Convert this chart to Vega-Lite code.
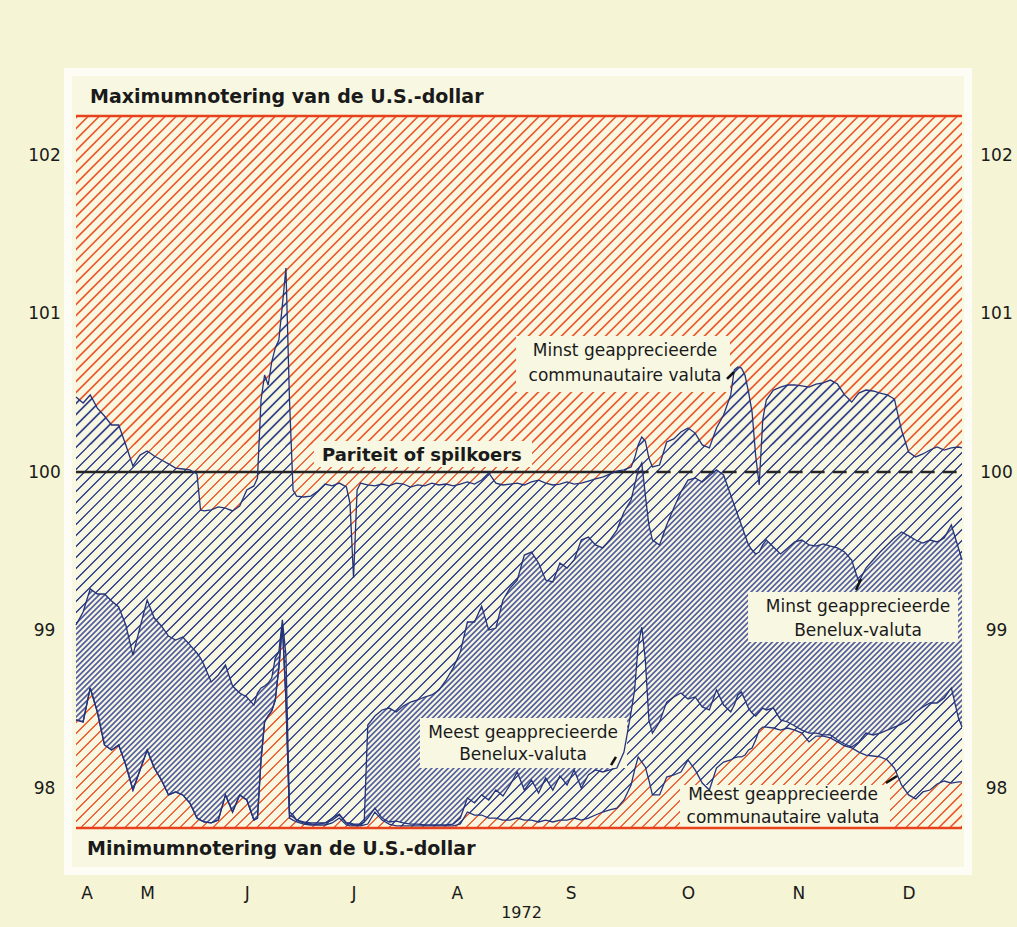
{
"$schema":"https://vega.github.io/schema/vega-lite/v6.json",
"width":886,"height":712,
"autosize":{"type":"none"},
"padding":{"left":76,"top":116,"right":55,"bottom":99},
"background":"#f5f4d5",
"config":{"view":{"stroke":null},"font":"DejaVu Sans"},
"datasets":{"koersen":[
{"dag":"1972-04-24","minstC":100.474,"meestC":98.433,"minstB":99.033,"meestB":98.433},
{"dag":"1972-04-26","minstC":100.436,"meestC":98.42,"minstB":99.115,"meestB":98.42},
{"dag":"1972-04-28","minstC":100.487,"meestC":98.635,"minstB":99.261,"meestB":98.635},
{"dag":"1972-04-30","minstC":100.404,"meestC":98.483,"minstB":99.229,"meestB":98.483},
{"dag":"1972-05-02","minstC":100.354,"meestC":98.275,"minstB":99.229,"meestB":98.275},
{"dag":"1972-05-04","minstC":100.297,"meestC":98.243,"minstB":99.185,"meestB":98.243},
{"dag":"1972-05-06","minstC":100.297,"meestC":98.275,"minstB":99.147,"meestB":98.275},
{"dag":"1972-05-08","minstC":100.171,"meestC":98.148,"minstB":99.033,"meestB":98.148},
{"dag":"1972-05-10","minstC":100.038,"meestC":97.99,"minstB":98.843,"meestB":97.99},
{"dag":"1972-05-12","minstC":100.107,"meestC":98.117,"minstB":99.02,"meestB":98.117},
{"dag":"1972-05-14","minstC":100.133,"meestC":98.243,"minstB":99.191,"meestB":98.243},
{"dag":"1972-05-16","minstC":100.101,"meestC":98.129,"minstB":99.077,"meestB":98.129},
{"dag":"1972-05-18","minstC":100.076,"meestC":98.053,"minstB":99.027,"meestB":98.053},
{"dag":"1972-05-20","minstC":100.051,"meestC":97.959,"minstB":98.963,"meestB":97.959},
{"dag":"1972-05-22","minstC":100.025,"meestC":97.978,"minstB":98.938,"meestB":97.978},
{"dag":"1972-05-24","minstC":100.019,"meestC":97.959,"minstB":98.957,"meestB":97.959},
{"dag":"1972-05-26","minstC":100.013,"meestC":97.908,"minstB":98.907,"meestB":97.908},
{"dag":"1972-05-28","minstC":99.987,"meestC":97.813,"minstB":98.856,"meestB":97.813},
{"dag":"1972-05-29","minstC":99.76,"meestC":97.8,"minstB":98.824,"meestB":97.8},
{"dag":"1972-05-30","minstC":99.754,"meestC":97.788,"minstB":98.78,"meestB":97.788},
{"dag":"1972-06-01","minstC":99.76,"meestC":97.782,"minstB":98.673,"meestB":97.782},
{"dag":"1972-06-03","minstC":99.779,"meestC":97.8,"minstB":98.717,"meestB":97.8},
{"dag":"1972-06-05","minstC":99.772,"meestC":97.959,"minstB":98.78,"meestB":97.959},
{"dag":"1972-06-07","minstC":99.754,"meestC":97.851,"minstB":98.647,"meestB":97.851},
{"dag":"1972-06-09","minstC":99.785,"meestC":97.959,"minstB":98.603,"meestB":97.959},
{"dag":"1972-06-11","minstC":99.886,"meestC":97.927,"minstB":98.578,"meestB":97.927},
{"dag":"1972-06-13","minstC":99.912,"meestC":97.8,"minstB":98.527,"meestB":97.8},
{"dag":"1972-06-14","minstC":99.962,"meestC":97.813,"minstB":98.603,"meestB":97.813},
{"dag":"1972-06-15","minstC":100.455,"meestC":98.18,"minstB":98.635,"meestB":98.18},
{"dag":"1972-06-16","minstC":100.613,"meestC":98.42,"minstB":98.647,"meestB":98.42},
{"dag":"1972-06-17","minstC":100.55,"meestC":98.458,"minstB":98.666,"meestB":98.458},
{"dag":"1972-06-18","minstC":100.695,"meestC":98.489,"minstB":98.698,"meestB":98.489},
{"dag":"1972-06-19","minstC":100.784,"meestC":98.559,"minstB":98.824,"meestB":98.559},
{"dag":"1972-06-20","minstC":100.834,"meestC":98.761,"minstB":98.862,"meestB":98.761},
{"dag":"1972-06-21","minstC":101.055,"meestC":99.033,"minstB":99.065,"meestB":99.033},
{"dag":"1972-06-22","minstC":101.289,"meestC":98.559,"minstB":98.843,"meestB":98.559},
{"dag":"1972-06-23","minstC":100.455,"meestC":97.813,"minstB":97.851,"meestB":97.832},
{"dag":"1972-06-24","minstC":99.886,"meestC":97.8,"minstB":97.832,"meestB":97.819},
{"dag":"1972-06-25","minstC":99.848,"meestC":97.788,"minstB":97.8,"meestB":97.8},
{"dag":"1972-06-27","minstC":99.842,"meestC":97.775,"minstB":97.788,"meestB":97.782},
{"dag":"1972-06-29","minstC":99.848,"meestC":97.769,"minstB":97.782,"meestB":97.775},
{"dag":"1972-07-01","minstC":99.88,"meestC":97.769,"minstB":97.782,"meestB":97.775},
{"dag":"1972-07-03","minstC":99.924,"meestC":97.769,"minstB":97.782,"meestB":97.782},
{"dag":"1972-07-05","minstC":99.912,"meestC":97.782,"minstB":97.813,"meestB":97.8},
{"dag":"1972-07-07","minstC":99.93,"meestC":97.813,"minstB":97.838,"meestB":97.832},
{"dag":"1972-07-09","minstC":99.905,"meestC":97.769,"minstB":97.782,"meestB":97.782},
{"dag":"1972-07-10","minstC":99.804,"meestC":97.763,"minstB":97.782,"meestB":97.775},
{"dag":"1972-07-11","minstC":99.33,"meestC":97.763,"minstB":97.775,"meestB":97.769},
{"dag":"1972-07-12","minstC":99.886,"meestC":97.763,"minstB":97.775,"meestB":97.769},
{"dag":"1972-07-13","minstC":99.93,"meestC":97.763,"minstB":97.775,"meestB":97.769},
{"dag":"1972-07-14","minstC":99.924,"meestC":97.769,"minstB":97.788,"meestB":97.788},
{"dag":"1972-07-15","minstC":99.918,"meestC":97.775,"minstB":98.401,"meestB":97.813},
{"dag":"1972-07-17","minstC":99.912,"meestC":97.851,"minstB":98.458,"meestB":97.876},
{"dag":"1972-07-19","minstC":99.924,"meestC":97.8,"minstB":98.496,"meestB":97.813},
{"dag":"1972-07-21","minstC":99.912,"meestC":97.775,"minstB":98.508,"meestB":97.788},
{"dag":"1972-07-23","minstC":99.93,"meestC":97.763,"minstB":98.483,"meestB":97.794},
{"dag":"1972-07-25","minstC":99.924,"meestC":97.763,"minstB":98.521,"meestB":97.782},
{"dag":"1972-07-27","minstC":99.905,"meestC":97.763,"minstB":98.546,"meestB":97.775},
{"dag":"1972-07-29","minstC":99.918,"meestC":97.763,"minstB":98.559,"meestB":97.775},
{"dag":"1972-07-31","minstC":99.912,"meestC":97.763,"minstB":98.578,"meestB":97.769},
{"dag":"1972-08-02","minstC":99.93,"meestC":97.763,"minstB":98.591,"meestB":97.769},
{"dag":"1972-08-04","minstC":99.918,"meestC":97.763,"minstB":98.622,"meestB":97.769},
{"dag":"1972-08-06","minstC":99.924,"meestC":97.763,"minstB":98.685,"meestB":97.769},
{"dag":"1972-08-08","minstC":99.912,"meestC":97.763,"minstB":98.761,"meestB":97.775},
{"dag":"1972-08-10","minstC":99.924,"meestC":97.775,"minstB":98.862,"meestB":97.813},
{"dag":"1972-08-12","minstC":99.937,"meestC":97.851,"minstB":99.052,"meestB":97.94},
{"dag":"1972-08-14","minstC":99.924,"meestC":97.832,"minstB":99.052,"meestB":97.908},
{"dag":"1972-08-16","minstC":99.949,"meestC":97.832,"minstB":99.153,"meestB":97.959},
{"dag":"1972-08-18","minstC":99.994,"meestC":97.813,"minstB":99.001,"meestB":97.927},
{"dag":"1972-08-20","minstC":99.93,"meestC":97.813,"minstB":99.014,"meestB":97.99},
{"dag":"1972-08-22","minstC":99.918,"meestC":97.8,"minstB":99.191,"meestB":97.952},
{"dag":"1972-08-24","minstC":99.924,"meestC":97.8,"minstB":99.267,"meestB":98.022},
{"dag":"1972-08-26","minstC":99.93,"meestC":97.813,"minstB":99.317,"meestB":98.104},
{"dag":"1972-08-28","minstC":99.918,"meestC":97.8,"minstB":99.475,"meestB":97.99},
{"dag":"1972-08-30","minstC":99.937,"meestC":97.8,"minstB":99.494,"meestB":98.053},
{"dag":"1972-09-01","minstC":99.949,"meestC":97.788,"minstB":99.425,"meestB":97.971},
{"dag":"1972-09-03","minstC":99.93,"meestC":97.8,"minstB":99.317,"meestB":98.066},
{"dag":"1972-09-05","minstC":99.918,"meestC":97.788,"minstB":99.305,"meestB":97.99},
{"dag":"1972-09-07","minstC":99.924,"meestC":97.8,"minstB":99.425,"meestB":98.079},
{"dag":"1972-09-09","minstC":99.937,"meestC":97.8,"minstB":99.393,"meestB":98.022},
{"dag":"1972-09-11","minstC":99.924,"meestC":97.813,"minstB":99.444,"meestB":98.117},
{"dag":"1972-09-13","minstC":99.93,"meestC":97.8,"minstB":99.57,"meestB":98.003},
{"dag":"1972-09-15","minstC":99.943,"meestC":97.813,"minstB":99.589,"meestB":98.085},
{"dag":"1972-09-17","minstC":99.956,"meestC":97.832,"minstB":99.539,"meestB":98.117},
{"dag":"1972-09-19","minstC":99.968,"meestC":97.851,"minstB":99.52,"meestB":98.104},
{"dag":"1972-09-21","minstC":99.987,"meestC":97.864,"minstB":99.57,"meestB":98.117},
{"dag":"1972-09-23","minstC":100.006,"meestC":97.876,"minstB":99.633,"meestB":98.129},
{"dag":"1972-09-25","minstC":100.013,"meestC":97.927,"minstB":99.747,"meestB":98.23},
{"dag":"1972-09-27","minstC":100.032,"meestC":98.022,"minstB":99.823,"meestB":98.483},
{"dag":"1972-09-28","minstC":100.088,"meestC":98.117,"minstB":99.918,"meestB":98.622},
{"dag":"1972-09-29","minstC":100.171,"meestC":98.199,"minstB":100.013,"meestB":98.907},
{"dag":"1972-09-30","minstC":100.221,"meestC":98.167,"minstB":100.057,"meestB":99.02},
{"dag":"1972-10-01","minstC":100.196,"meestC":98.136,"minstB":99.855,"meestB":98.812},
{"dag":"1972-10-02","minstC":100.088,"meestC":98.053,"minstB":99.665,"meestB":98.433},
{"dag":"1972-10-03","minstC":100.032,"meestC":97.959,"minstB":99.57,"meestB":98.35},
{"dag":"1972-10-05","minstC":100.044,"meestC":97.959,"minstB":99.539,"meestB":98.42},
{"dag":"1972-10-07","minstC":100.19,"meestC":98.072,"minstB":99.665,"meestB":98.546},
{"dag":"1972-10-09","minstC":100.209,"meestC":98.085,"minstB":99.772,"meestB":98.578},
{"dag":"1972-10-11","minstC":100.253,"meestC":98.104,"minstB":99.874,"meestB":98.603},
{"dag":"1972-10-13","minstC":100.278,"meestC":98.18,"minstB":99.949,"meestB":98.565},
{"dag":"1972-10-15","minstC":100.246,"meestC":98.117,"minstB":99.962,"meestB":98.578},
{"dag":"1972-10-17","minstC":100.171,"meestC":98.034,"minstB":99.937,"meestB":98.515},
{"dag":"1972-10-19","minstC":100.152,"meestC":97.99,"minstB":99.975,"meestB":98.496},
{"dag":"1972-10-21","minstC":100.278,"meestC":98.129,"minstB":100.013,"meestB":98.622},
{"dag":"1972-10-23","minstC":100.36,"meestC":98.167,"minstB":99.981,"meestB":98.527},
{"dag":"1972-10-25","minstC":100.487,"meestC":98.18,"minstB":99.855,"meestB":98.483},
{"dag":"1972-10-26","minstC":100.645,"meestC":98.193,"minstB":99.791,"meestB":98.527},
{"dag":"1972-10-27","minstC":100.664,"meestC":98.199,"minstB":99.728,"meestB":98.591},
{"dag":"1972-10-28","minstC":100.657,"meestC":98.199,"minstB":99.665,"meestB":98.61},
{"dag":"1972-10-29","minstC":100.613,"meestC":98.211,"minstB":99.602,"meestB":98.559},
{"dag":"1972-10-30","minstC":100.506,"meestC":98.243,"minstB":99.539,"meestB":98.508},
{"dag":"1972-10-31","minstC":100.379,"meestC":98.256,"minstB":99.507,"meestB":98.477},
{"dag":"1972-11-01","minstC":100.107,"meestC":98.306,"minstB":99.482,"meestB":98.458},
{"dag":"1972-11-02","minstC":99.918,"meestC":98.369,"minstB":99.494,"meestB":98.483},
{"dag":"1972-11-03","minstC":100.329,"meestC":98.388,"minstB":99.539,"meestB":98.508},
{"dag":"1972-11-04","minstC":100.455,"meestC":98.388,"minstB":99.57,"meestB":98.496},
{"dag":"1972-11-06","minstC":100.518,"meestC":98.382,"minstB":99.526,"meestB":98.508},
{"dag":"1972-11-08","minstC":100.537,"meestC":98.369,"minstB":99.482,"meestB":98.433},
{"dag":"1972-11-10","minstC":100.55,"meestC":98.382,"minstB":99.52,"meestB":98.42},
{"dag":"1972-11-12","minstC":100.55,"meestC":98.369,"minstB":99.558,"meestB":98.395},
{"dag":"1972-11-14","minstC":100.544,"meestC":98.35,"minstB":99.57,"meestB":98.369},
{"dag":"1972-11-16","minstC":100.537,"meestC":98.294,"minstB":99.539,"meestB":98.35},
{"dag":"1972-11-18","minstC":100.556,"meestC":98.331,"minstB":99.532,"meestB":98.35},
{"dag":"1972-11-20","minstC":100.563,"meestC":98.331,"minstB":99.545,"meestB":98.338},
{"dag":"1972-11-22","minstC":100.581,"meestC":98.319,"minstB":99.532,"meestB":98.338},
{"dag":"1972-11-24","minstC":100.556,"meestC":98.294,"minstB":99.52,"meestB":98.306},
{"dag":"1972-11-26","minstC":100.487,"meestC":98.269,"minstB":99.494,"meestB":98.281},
{"dag":"1972-11-28","minstC":100.442,"meestC":98.256,"minstB":99.444,"meestB":98.262},
{"dag":"1972-11-30","minstC":100.499,"meestC":98.23,"minstB":99.305,"meestB":98.294},
{"dag":"1972-12-02","minstC":100.518,"meestC":98.211,"minstB":99.393,"meestB":98.35},
{"dag":"1972-12-04","minstC":100.512,"meestC":98.205,"minstB":99.444,"meestB":98.338},
{"dag":"1972-12-06","minstC":100.499,"meestC":98.199,"minstB":99.494,"meestB":98.35},
{"dag":"1972-12-08","minstC":100.487,"meestC":98.18,"minstB":99.539,"meestB":98.369},
{"dag":"1972-12-10","minstC":100.461,"meestC":98.129,"minstB":99.583,"meestB":98.388},
{"dag":"1972-12-12","minstC":100.265,"meestC":98.022,"minstB":99.621,"meestB":98.407},
{"dag":"1972-12-14","minstC":100.126,"meestC":97.959,"minstB":99.596,"meestB":98.433},
{"dag":"1972-12-16","minstC":100.095,"meestC":97.934,"minstB":99.57,"meestB":98.483},
{"dag":"1972-12-18","minstC":100.114,"meestC":97.978,"minstB":99.551,"meestB":98.515},
{"dag":"1972-12-20","minstC":100.139,"meestC":97.99,"minstB":99.57,"meestB":98.54},
{"dag":"1972-12-22","minstC":100.158,"meestC":98.028,"minstB":99.558,"meestB":98.54},
{"dag":"1972-12-24","minstC":100.139,"meestC":98.047,"minstB":99.583,"meestB":98.572},
{"dag":"1972-12-26","minstC":100.152,"meestC":98.034,"minstB":99.665,"meestB":98.635},
{"dag":"1972-12-28","minstC":100.158,"meestC":98.041,"minstB":99.52,"meestB":98.445},
{"dag":"1972-12-29","minstC":100.152,"meestC":98.041,"minstB":99.444,"meestB":98.388}
]},
"data":{"name":"koersen"},
"resolve":{"axis":{"y":"independent"}},
"layer":[
{"data":{"values":[{}]},"mark":{"type":"rect","fill":"#f8f7e2","stroke":"#fdfdf6","strokeWidth":8},
 "encoding":{"x":{"datum":{"year":1972,"month":4,"date":21,"hours":18,"utc":true},"type":"temporal"},
 "x2":{"datum":{"year":1972,"month":12,"date":30,"hours":17,"utc":true}},
 "y":{"datum":102.528,"type":"quantitative","axis":null},"y2":{"datum":97.478}}},
{"mark":{"type":"area","fill":"#ec5a2e"},
 "encoding":{
 "x":{"field":"dag","type":"temporal","scale":{"type":"utc","domain":[{"year":1972,"month":4,"date":24,"utc":true},{"year":1972,"month":12,"date":29,"utc":true}]},
  "axis":{"values":[{"year":1972,"month":4,"date":27,"utc":true},{"year":1972,"month":5,"date":14,"utc":true},{"year":1972,"month":6,"date":11,"utc":true},{"year":1972,"month":7,"date":11,"utc":true},{"year":1972,"month":8,"date":9,"utc":true},{"year":1972,"month":9,"date":10,"utc":true},{"year":1972,"month":10,"date":13,"utc":true},{"year":1972,"month":11,"date":13,"utc":true},{"year":1972,"month":12,"date":14,"utc":true}],
  "labelExpr":"slice(utcFormat(datum.value, '%B'), 0, 1)","ticks":false,"tickSize":0,"domain":false,"grid":false,"labelFont":"DejaVu Sans","labelFontSize":17,"labelColor":"#1a1a1a","labelPadding":65,"labelBaseline":"middle","labelFlush":false,"labelOverlap":false,
  "title":"1972","titleFont":"DejaVu Sans","titleFontSize":16,"titleFontWeight":"normal","titleColor":"#1a1a1a","titleX":445,"titleY":84,"titleBaseline":"middle","titleAlign":"center"}},
 "y":{"field":"minstC","type":"quantitative","scale":{"domain":[97.75,102.25],"nice":false,"zero":false},
  "axis":{"orient":"left","values":[98,99,100,101,102],"ticks":false,"tickSize":0,"domain":false,"grid":false,"labelFont":"DejaVu Sans","labelFontSize":17,"labelColor":"#1a1a1a","labelPadding":32,"labelAlign":"center","labelFlush":false,"title":null}},
 "y2":{"datum":102.25}}},
{"mark":{"type":"area","fill":"#ec5a2e"},
 "encoding":{"x":{"field":"dag","type":"temporal"},
 "y":{"field":"meestC","type":"quantitative","axis":{"orient":"right","values":[98,99,100,101,102],"ticks":false,"tickSize":0,"domain":false,"grid":false,"labelFont":"DejaVu Sans","labelFontSize":17,"labelColor":"#1a1a1a","labelPadding":34,"labelAlign":"center","labelFlush":false,"title":null}},
 "y2":{"datum":97.75}}},
{"mark":{"type":"area","fill":"#33438c"},
 "encoding":{"x":{"field":"dag","type":"temporal"},"y":{"field":"minstC","type":"quantitative","axis":null},"y2":{"field":"meestC"}}},
{"data":{"values":[{}]},
 "mark":{"type":"point","shape":"M-2.645,.82l1.64,-1.64m-1.615,1.64l1.64,-1.64m-1.615,1.64l1.64,-1.64m-1.615,1.64l1.64,-1.64m-1.615,1.64l1.64,-1.64m-1.615,1.64l1.64,-1.64m-1.615,1.64l1.64,-1.64m-1.615,1.64l1.64,-1.64m-1.615,1.64l1.64,-1.64m-1.615,1.64l1.64,-1.64m-1.615,1.64l1.64,-1.64m-1.615,1.64l1.64,-1.64m-1.615,1.64l1.64,-1.64m-1.615,1.64l1.64,-1.64m-1.615,1.64l1.64,-1.64m-1.615,1.64l1.64,-1.64m-1.615,1.64l1.64,-1.64m-1.615,1.64l1.64,-1.64m-1.615,1.64l1.64,-1.64m-1.615,1.64l1.64,-1.64m-1.615,1.64l1.64,-1.64m-1.615,1.64l1.64,-1.64m-1.615,1.64l1.64,-1.64m-1.615,1.64l1.64,-1.64m-1.615,1.64l1.64,-1.64m-1.615,1.64l1.64,-1.64m-1.615,1.64l1.64,-1.64m-1.615,1.64l1.64,-1.64m-1.615,1.64l1.64,-1.64m-1.615,1.64l1.64,-1.64m-1.615,1.64l1.64,-1.64m-1.615,1.64l1.64,-1.64m-1.615,1.64l1.64,-1.64m-1.615,1.64l1.64,-1.64m-1.615,1.64l1.64,-1.64m-1.615,1.64l1.64,-1.64m-1.615,1.64l1.64,-1.64m-1.615,1.64l1.64,-1.64m-1.615,1.64l1.64,-1.64m-1.615,1.64l1.64,-1.64m-1.615,1.64l1.64,-1.64m-1.615,1.64l1.64,-1.64m-1.615,1.64l1.64,-1.64m-1.615,1.64l1.64,-1.64m-1.615,1.64l1.64,-1.64m-1.615,1.64l1.64,-1.64m-1.615,1.64l1.64,-1.64m-1.615,1.64l1.64,-1.64m-1.615,1.64l1.64,-1.64m-1.615,1.64l1.64,-1.64m-1.615,1.64l1.64,-1.64m-1.615,1.64l1.64,-1.64m-1.615,1.64l1.64,-1.64m-1.615,1.64l1.64,-1.64m-1.615,1.64l1.64,-1.64m-1.615,1.64l1.64,-1.64m-1.615,1.64l1.64,-1.64m-1.615,1.64l1.64,-1.64m-1.615,1.64l1.64,-1.64m-1.615,1.64l1.64,-1.64m-1.615,1.64l1.64,-1.64m-1.615,1.64l1.64,-1.64m-1.615,1.64l1.64,-1.64m-1.615,1.64l1.64,-1.64m-1.615,1.64l1.64,-1.64m-1.615,1.64l1.64,-1.64m-1.615,1.64l1.64,-1.64m-1.615,1.64l1.64,-1.64m-1.615,1.64l1.64,-1.64m-1.615,1.64l1.64,-1.64m-1.615,1.64l1.64,-1.64m-1.615,1.64l1.64,-1.64m-1.615,1.64l1.64,-1.64m-1.615,1.64l1.64,-1.64m-1.615,1.64l1.64,-1.64m-1.615,1.64l1.64,-1.64m-1.615,1.64l1.64,-1.64m-1.615,1.64l1.64,-1.64m-1.615,1.64l1.64,-1.64m-1.615,1.64l1.64,-1.64m-1.615,1.64l1.64,-1.64m-1.615,1.64l1.64,-1.64m-1.615,1.64l1.64,-1.64m-1.615,1.64l1.64,-1.64m-1.615,1.64l1.64,-1.64m-1.615,1.64l1.64,-1.64m-1.615,1.64l1.64,-1.64m-1.615,1.64l1.64,-1.64m-1.615,1.64l1.64,-1.64m-1.615,1.64l1.64,-1.64m-1.615,1.64l1.64,-1.64m-1.615,1.64l1.64,-1.64m-1.615,1.64l1.64,-1.64m-1.615,1.64l1.64,-1.64m-1.615,1.64l1.64,-1.64m-1.615,1.64l1.64,-1.64m-1.615,1.64l1.64,-1.64m-1.615,1.64l1.64,-1.64m-1.615,1.64l1.64,-1.64m-1.615,1.64l1.64,-1.64m-1.615,1.64l1.64,-1.64m-1.615,1.64l1.64,-1.64m-1.615,1.64l1.64,-1.64m-1.615,1.64l1.64,-1.64m-1.615,1.64l1.64,-1.64m-1.615,1.64l1.64,-1.64m-1.615,1.64l1.64,-1.64m-1.615,1.64l1.64,-1.64m-1.615,1.64l1.64,-1.64m-1.615,1.64l1.64,-1.64m-1.615,1.64l1.64,-1.64m-1.615,1.64l1.64,-1.64m-1.615,1.64l1.64,-1.64m-1.615,1.64l1.64,-1.64m-1.615,1.64l1.64,-1.64m-1.615,1.64l1.64,-1.64m-1.615,1.64l1.64,-1.64m-1.615,1.64l1.64,-1.64m-1.615,1.64l1.64,-1.64m-1.615,1.64l1.64,-1.64m-1.615,1.64l1.64,-1.64m-1.615,1.64l1.64,-1.64m-1.615,1.64l1.64,-1.64m-1.615,1.64l1.64,-1.64m-1.615,1.64l1.64,-1.64m-1.615,1.64l1.64,-1.64m-1.615,1.64l1.64,-1.64m-1.615,1.64l1.64,-1.64m-1.615,1.64l1.64,-1.64m-1.615,1.64l1.64,-1.64m-1.615,1.64l1.64,-1.64m-1.615,1.64l1.64,-1.64m-1.615,1.64l1.64,-1.64m-1.615,1.64l1.64,-1.64m-1.615,1.64l1.64,-1.64m-1.615,1.64l1.64,-1.64m-1.615,1.64l1.64,-1.64m-1.615,1.64l1.64,-1.64m-1.615,1.64l1.64,-1.64m-1.615,1.64l1.64,-1.64m-1.615,1.64l1.64,-1.64m-1.615,1.64l1.64,-1.64m-1.615,1.64l1.64,-1.64m-1.615,1.64l1.64,-1.64m-1.615,1.64l1.64,-1.64m-1.615,1.64l1.64,-1.64m-1.615,1.64l1.64,-1.64m-1.615,1.64l1.64,-1.64m-1.615,1.64l1.64,-1.64m-1.615,1.64l1.64,-1.64m-1.615,1.64l1.64,-1.64m-1.615,1.64l1.64,-1.64m-1.615,1.64l1.64,-1.64m-1.615,1.64l1.64,-1.64m-1.615,1.64l1.64,-1.64m-1.615,1.64l1.64,-1.64m-1.615,1.64l1.64,-1.64","size":774400,"filled":false,"stroke":"#f8f7e2","strokeWidth":6.18,"opacity":1,"strokeOpacity":1,"clip":true},
 "encoding":{"x":{"datum":{"year":1972,"month":8,"date":26,"hours":12,"utc":true},"type":"temporal"},"y":{"datum":100,"type":"quantitative","axis":null}}},
{"mark":{"type":"area","fill":"#55619f"},
 "encoding":{"x":{"field":"dag","type":"temporal"},"y":{"field":"minstB","type":"quantitative","axis":null},"y2":{"field":"meestB"}}},
{"data":{"values":[{}]},
 "mark":{"type":"point","shape":"M-1.88875,.82l.88,-.88m-.8675,.88l.88,-.88m-.8675,.88l.88,-.88m-.8675,.88l.88,-.88m-.8675,.88l.88,-.88m-.8675,.88l.88,-.88m-.8675,.88l.88,-.88m-.8675,.88l.88,-.88m-.8675,.88l.88,-.88m-.8675,.88l.88,-.88m-.8675,.88l.88,-.88m-.8675,.88l.88,-.88m-.8675,.88l.88,-.88m-.8675,.88l.88,-.88m-.8675,.88l.88,-.88m-.8675,.88l.88,-.88m-.8675,.88l.88,-.88m-.8675,.88l.88,-.88m-.8675,.88l.88,-.88m-.8675,.88l.88,-.88m-.8675,.88l.88,-.88m-.8675,.88l.88,-.88m-.8675,.88l.88,-.88m-.8675,.88l.88,-.88m-.8675,.88l.88,-.88m-.8675,.88l.88,-.88m-.8675,.88l.88,-.88m-.8675,.88l.88,-.88m-.8675,.88l.88,-.88m-.8675,.88l.88,-.88m-.8675,.88l.88,-.88m-.8675,.88l.88,-.88m-.8675,.88l.88,-.88m-.8675,.88l.88,-.88m-.8675,.88l.88,-.88m-.8675,.88l.88,-.88m-.8675,.88l.88,-.88m-.8675,.88l.88,-.88m-.8675,.88l.88,-.88m-.8675,.88l.88,-.88m-.8675,.88l.88,-.88m-.8675,.88l.88,-.88m-.8675,.88l.88,-.88m-.8675,.88l.88,-.88m-.8675,.88l.88,-.88m-.8675,.88l.88,-.88m-.8675,.88l.88,-.88m-.8675,.88l.88,-.88m-.8675,.88l.88,-.88m-.8675,.88l.88,-.88m-.8675,.88l.88,-.88m-.8675,.88l.88,-.88m-.8675,.88l.88,-.88m-.8675,.88l.88,-.88m-.8675,.88l.88,-.88m-.8675,.88l.88,-.88m-.8675,.88l.88,-.88m-.8675,.88l.88,-.88m-.8675,.88l.88,-.88m-.8675,.88l.88,-.88m-.8675,.88l.88,-.88m-.8675,.88l.88,-.88m-.8675,.88l.88,-.88m-.8675,.88l.88,-.88m-.8675,.88l.88,-.88m-.8675,.88l.88,-.88m-.8675,.88l.88,-.88m-.8675,.88l.88,-.88m-.8675,.88l.88,-.88m-.8675,.88l.88,-.88m-.8675,.88l.88,-.88m-.8675,.88l.88,-.88m-.8675,.88l.88,-.88m-.8675,.88l.88,-.88m-.8675,.88l.88,-.88m-.8675,.88l.88,-.88m-.8675,.88l.88,-.88m-.8675,.88l.88,-.88m-.8675,.88l.88,-.88m-.8675,.88l.88,-.88m-.8675,.88l.88,-.88m-.8675,.88l.88,-.88m-.8675,.88l.88,-.88m-.8675,.88l.88,-.88m-.8675,.88l.88,-.88m-.8675,.88l.88,-.88m-.8675,.88l.88,-.88m-.8675,.88l.88,-.88m-.8675,.88l.88,-.88m-.8675,.88l.88,-.88m-.8675,.88l.88,-.88m-.8675,.88l.88,-.88m-.8675,.88l.88,-.88m-.8675,.88l.88,-.88m-.8675,.88l.88,-.88m-.8675,.88l.88,-.88m-.8675,.88l.88,-.88m-.8675,.88l.88,-.88m-.8675,.88l.88,-.88m-.8675,.88l.88,-.88m-.8675,.88l.88,-.88m-.8675,.88l.88,-.88m-.8675,.88l.88,-.88m-.8675,.88l.88,-.88m-.8675,.88l.88,-.88m-.8675,.88l.88,-.88m-.8675,.88l.88,-.88m-.8675,.88l.88,-.88m-.8675,.88l.88,-.88m-.8675,.88l.88,-.88m-.8675,.88l.88,-.88m-.8675,.88l.88,-.88m-.8675,.88l.88,-.88m-.8675,.88l.88,-.88m-.8675,.88l.88,-.88m-.8675,.88l.88,-.88m-.8675,.88l.88,-.88m-.8675,.88l.88,-.88m-.8675,.88l.88,-.88m-.8675,.88l.88,-.88m-.8675,.88l.88,-.88m-.8675,.88l.88,-.88m-.8675,.88l.88,-.88m-.8675,.88l.88,-.88m-.8675,.88l.88,-.88m-.8675,.88l.88,-.88m-.8675,.88l.88,-.88m-.8675,.88l.88,-.88m-.8675,.88l.88,-.88m-.8675,.88l.88,-.88m-.8675,.88l.88,-.88m-.8675,.88l.88,-.88m-.8675,.88l.88,-.88m-.8675,.88l.88,-.88m-.8675,.88l.88,-.88m-.8675,.88l.88,-.88m-.8675,.88l.88,-.88m-.8675,.88l.88,-.88m-.8675,.88l.88,-.88m-.8675,.88l.88,-.88m-.8675,.88l.88,-.88m-.8675,.88l.88,-.88m-.8675,.88l.88,-.88m-.8675,.88l.88,-.88m-.8675,.88l.88,-.88m-.8675,.88l.88,-.88m-.8675,.88l.88,-.88m-.8675,.88l.88,-.88m-.8675,.88l.88,-.88m-.8675,.88l.88,-.88m-.8675,.88l.88,-.88m-.8675,.88l.88,-.88m-.8675,.88l.88,-.88m-.8675,.88l.88,-.88m-.8675,.88l.88,-.88m-.8675,.88l.88,-.88m-.8675,.88l.88,-.88m-.8675,.88l.88,-.88m-.8675,.88l.88,-.88m-.8675,.88l.88,-.88m-.8675,.88l.88,-.88m-.8675,.88l.88,-.88m-.8675,.88l.88,-.88m-.8675,.88l.88,-.88m-.8675,.88l.88,-.88m-.8675,.88l.88,-.88m-.8675,.88l.88,-.88m-.8675,.88l.88,-.88m-.8675,.88l.88,-.88m-.8675,.88l.88,-.88m-.8675,.88l.88,-.88m-.8675,.88l.88,-.88m-.8675,.88l.88,-.88m-.8675,.88l.88,-.88m-.8675,.88l.88,-.88m-.8675,.88l.88,-.88m-.8675,.88l.88,-.88m-.8675,.88l.88,-.88m-.8675,.88l.88,-.88m-.8675,.88l.88,-.88m-.8675,.88l.88,-.88m-.8675,.88l.88,-.88m-.8675,.88l.88,-.88m-.8675,.88l.88,-.88m-.8675,.88l.88,-.88m-.8675,.88l.88,-.88m-.8675,.88l.88,-.88m-.8675,.88l.88,-.88m-.8675,.88l.88,-.88m-.8675,.88l.88,-.88m-.8675,.88l.88,-.88m-.8675,.88l.88,-.88m-.8675,.88l.88,-.88m-.8675,.88l.88,-.88m-.8675,.88l.88,-.88m-.8675,.88l.88,-.88m-.8675,.88l.88,-.88m-.8675,.88l.88,-.88m-.8675,.88l.88,-.88m-.8675,.88l.88,-.88m-.8675,.88l.88,-.88m-.8675,.88l.88,-.88m-.8675,.88l.88,-.88m-.8675,.88l.88,-.88m-.8675,.88l.88,-.88m-.8675,.88l.88,-.88m-.8675,.88l.88,-.88m-.8675,.88l.88,-.88m-.8675,.88l.88,-.88m-.8675,.88l.88,-.88m-.8675,.88l.88,-.88m-.8675,.88l.88,-.88m-.8675,.88l.88,-.88m-.8675,.88l.88,-.88m-.8675,.88l.88,-.88m-.8675,.88l.88,-.88m-.8675,.88l.88,-.88m-.8675,.88l.88,-.88m-.8675,.88l.88,-.88m-.8675,.88l.88,-.88m-.8675,.88l.88,-.88m-.8675,.88l.88,-.88m-.8675,.88l.88,-.88m-.8675,.88l.88,-.88m-.8675,.88l.88,-.88","size":774400,"filled":false,"stroke":"#f8f7e2","strokeWidth":2.2,"opacity":1,"strokeOpacity":1,"clip":true},
 "encoding":{"x":{"datum":{"year":1972,"month":8,"date":26,"hours":12,"utc":true},"type":"temporal"},"y":{"datum":100,"type":"quantitative","axis":null}}},
{"data":{"values":[{}]},"mark":{"type":"rect","fill":"#f8f7e2"},
 "encoding":{"x":{"datum":{"year":1972,"month":8,"date":25,"hours":16,"utc":true},"type":"temporal"},"x2":{"datum":{"year":1972,"month":10,"date":24,"hours":19,"utc":true}},"y":{"datum":100.86,"type":"quantitative","axis":null},"y2":{"datum":100.506}}},
{"data":{"values":[{}]},"mark":{"type":"rect","fill":"#f8f7e2"},
 "encoding":{"x":{"datum":{"year":1972,"month":6,"date":29,"hours":21,"utc":true},"type":"temporal"},"x2":{"datum":{"year":1972,"month":8,"date":30,"hours":4,"utc":true}},"y":{"datum":100.196,"type":"quantitative","axis":null},"y2":{"datum":100.032}}},
{"data":{"values":[{}]},"mark":{"type":"rect","fill":"#f8f7e2"},
 "encoding":{"x":{"datum":{"year":1972,"month":10,"date":29,"hours":21,"utc":true},"type":"temporal"},"x2":{"datum":{"year":1972,"month":12,"date":27,"hours":21,"utc":true}},"y":{"datum":99.242,"type":"quantitative","axis":null},"y2":{"datum":98.925}}},
{"data":{"values":[{}]},"mark":{"type":"rect","fill":"#f8f7e2"},
 "encoding":{"x":{"datum":{"year":1972,"month":7,"date":29,"hours":16,"utc":true},"type":"temporal"},"x2":{"datum":{"year":1972,"month":9,"date":25,"hours":21,"utc":true}},"y":{"datum":98.445,"type":"quantitative","axis":null},"y2":{"datum":98.129}}},
{"data":{"values":[{}]},"mark":{"type":"rect","fill":"#f8f7e2"},
 "encoding":{"x":{"datum":{"year":1972,"month":10,"date":10,"hours":18,"utc":true},"type":"temporal"},"x2":{"datum":{"year":1972,"month":12,"date":8,"hours":18,"utc":true}},"y":{"datum":98.022,"type":"quantitative","axis":null},"y2":{"datum":97.756}}},
{"data":{"values":[{}]},"mark":{"type":"rule","stroke":"#262626","strokeWidth":2.5},
 "encoding":{"x":{"datum":{"year":1972,"month":4,"date":24,"utc":true},"type":"temporal"},"x2":{"datum":{"year":1972,"month":9,"date":28,"utc":true}},"y":{"datum":100,"type":"quantitative","axis":null}}},
{"data":{"values":[{}]},"mark":{"type":"rule","stroke":"#262626","strokeWidth":2.5,"strokeDash":[14,8]},
 "encoding":{"x":{"datum":{"year":1972,"month":9,"date":28,"utc":true},"type":"temporal"},"x2":{"datum":{"year":1972,"month":12,"date":29,"utc":true}},"y":{"datum":100,"type":"quantitative","axis":null}}},
{"transform":[{"fold":["minstC","meestC","minstB","meestB"],"as":["reeks","koers"]}],
 "mark":{"type":"line","stroke":"#24337a","strokeWidth":1.3},
 "encoding":{"x":{"field":"dag","type":"temporal"},"y":{"field":"koers","type":"quantitative","axis":null},"detail":{"field":"reeks","type":"nominal"}}},
{"data":{"values":[{}]},"mark":{"type":"rule","stroke":"#e8421c","strokeWidth":2.5},
 "encoding":{"y":{"datum":102.25,"type":"quantitative","axis":null}}},
{"data":{"values":[{}]},"mark":{"type":"rule","stroke":"#e8421c","strokeWidth":2.5},
 "encoding":{"y":{"datum":97.75,"type":"quantitative","axis":null}}},
{"data":{"values":[{}]},"mark":{"type":"rule","stroke":"#111111","strokeWidth":2.5},
 "encoding":{"x":{"datum":{"year":1972,"month":10,"date":23,"hours":23,"utc":true},"type":"temporal"},"x2":{"datum":{"year":1972,"month":10,"date":25,"hours":22,"utc":true}},"y":{"datum":100.588,"type":"quantitative","axis":null},"y2":{"datum":100.632}}},
{"data":{"values":[{}]},"mark":{"type":"rule","stroke":"#111111","strokeWidth":2.5},
 "encoding":{"x":{"datum":{"year":1972,"month":11,"date":29,"hours":5,"utc":true},"type":"temporal"},"x2":{"datum":{"year":1972,"month":11,"date":30,"hours":15,"utc":true}},"y":{"datum":99.254,"type":"quantitative","axis":null},"y2":{"datum":99.324}}},
{"data":{"values":[{}]},"mark":{"type":"rule","stroke":"#111111","strokeWidth":2.5},
 "encoding":{"x":{"datum":{"year":1972,"month":9,"date":21,"hours":9,"utc":true},"type":"temporal"},"x2":{"datum":{"year":1972,"month":9,"date":22,"hours":18,"utc":true}},"y":{"datum":98.148,"type":"quantitative","axis":null},"y2":{"datum":98.199}}},
{"data":{"values":[{}]},"mark":{"type":"rule","stroke":"#111111","strokeWidth":2.5},
 "encoding":{"x":{"datum":{"year":1972,"month":12,"date":7,"hours":15,"utc":true},"type":"temporal"},"x2":{"datum":{"year":1972,"month":12,"date":10,"hours":18,"utc":true}},"y":{"datum":98.034,"type":"quantitative","axis":null},"y2":{"datum":98.079}}},
{"data":{"values":[{}]},"mark":{"type":"text","text":"Maximumnotering van de U.S.-dollar","align":"left","baseline":"alphabetic","font":"DejaVu Sans","fontWeight":"bold","fontSize":19,"color":"#1a1a1a"},
 "encoding":{"x":{"datum":{"year":1972,"month":4,"date":27,"hours":22,"minutes":26,"utc":true},"type":"temporal"},"y":{"datum":102.332,"type":"quantitative","axis":null}}},
{"data":{"values":[{}]},"mark":{"type":"text","text":"Minimumnotering van de U.S.-dollar","align":"left","baseline":"alphabetic","font":"DejaVu Sans","fontWeight":"bold","fontSize":19,"color":"#1a1a1a"},
 "encoding":{"x":{"datum":{"year":1972,"month":4,"date":27,"hours":2,"minutes":11,"utc":true},"type":"temporal"},"y":{"datum":97.579,"type":"quantitative","axis":null}}},
{"data":{"values":[{}]},"mark":{"type":"text","text":"Pariteit of spilkoers","align":"left","baseline":"alphabetic","font":"DejaVu Sans","fontWeight":"bold","fontSize":18,"color":"#1a1a1a"},
 "encoding":{"x":{"datum":{"year":1972,"month":7,"date":2,"hours":3,"minutes":20,"utc":true},"type":"temporal"},"y":{"datum":100.07,"type":"quantitative","axis":null}}},
{"data":{"values":[{}]},"mark":{"type":"text","text":["Minst geapprecieerde","communautaire valuta"],"lineHeight":25,"align":"center","baseline":"alphabetic","font":"DejaVu Sans","fontSize":17,"color":"#1a1a1a"},
 "encoding":{"x":{"datum":{"year":1972,"month":9,"date":25,"hours":7,"utc":true},"type":"temporal"},"y":{"datum":100.733,"type":"quantitative","axis":null}}},
{"data":{"values":[{}]},"mark":{"type":"text","text":["Minst geapprecieerde","Benelux-valuta"],"lineHeight":24,"align":"center","baseline":"alphabetic","font":"DejaVu Sans","fontSize":17,"color":"#1a1a1a"},
 "encoding":{"x":{"datum":{"year":1972,"month":11,"date":29,"hours":18,"minutes":30,"utc":true},"type":"temporal"},"y":{"datum":99.115,"type":"quantitative","axis":null}}},
{"data":{"values":[{}]},"mark":{"type":"text","text":["Meest geapprecieerde","Benelux-valuta"],"lineHeight":22,"align":"center","baseline":"alphabetic","font":"DejaVu Sans","fontSize":17,"color":"#1a1a1a"},
 "encoding":{"x":{"datum":{"year":1972,"month":8,"date":27,"hours":15,"utc":true},"type":"temporal"},"y":{"datum":98.319,"type":"quantitative","axis":null}}},
{"data":{"values":[{}]},"mark":{"type":"text","text":["Meest geapprecieerde","communautaire valuta"],"lineHeight":23,"align":"center","baseline":"alphabetic","font":"DejaVu Sans","fontSize":17,"color":"#1a1a1a"},
 "encoding":{"x":{"datum":{"year":1972,"month":11,"date":8,"hours":17,"utc":true},"type":"temporal"},"y":{"datum":97.927,"type":"quantitative","axis":null}}}
]
}
